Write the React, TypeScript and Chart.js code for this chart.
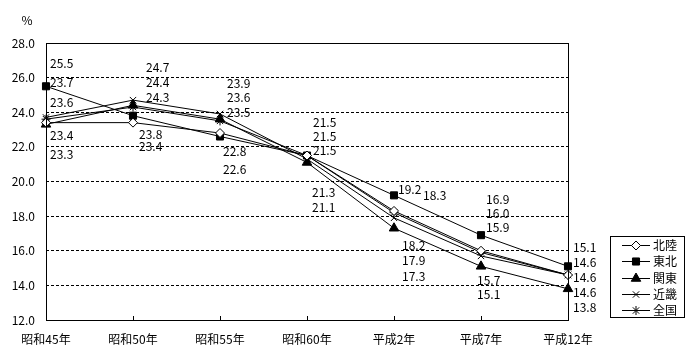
import React, { useEffect, useRef } from 'react';
import { Chart, registerables } from 'chart.js';
import { drawPoint } from 'chart.js/helpers';

Chart.register(...registerables);

const categories = ['昭和45年', '昭和50年', '昭和55年', '昭和60年', '平成2年', '平成7年', '平成12年'];
const seriesNames = ['北陸', '東北', '関東', '近畿', '全国'];
const hokuriku = [23.4, 23.4, 22.8, 21.5, 18.3, 16.0, 14.6];
const tohoku = [25.5, 23.8, 22.6, 21.5, 19.2, 16.9, 15.1];
const kanto = [23.3, 24.4, 23.6, 21.1, 17.3, 15.1, 13.8];
const kinki = [23.7, 24.7, 23.9, 21.3, 17.9, 15.7, 14.6];
const zenkoku = [23.6, 24.3, 23.5, 21.5, 18.2, 15.9, 14.6];
const yMin = 12;
const yMax = 28;
const yStep = 2;
const unitLabel = '%';

const FONT = '"Noto Sans CJK JP", "Noto Sans", sans-serif';

// label layout per category (style only)
const labelLayout: any[] = [
  { mode: 'split', nUp: 3, upEnd: 16, gapUp: 19.5, downStart: 11, gapDown: 19, dxUp: 4, dxDown: 4 },
  { mode: 'split', nUp: 3, upEnd: -3, gapUp: 15, downStart: 12, gapDown: 12, dxUp: 13, dxDown: 6 },
  { mode: 'split', nUp: 3, upEnd: -2, gapUp: 14.5, downStart: 15, gapDown: 18, dxUp: 7, dxDown: 3 },
  { mode: 'split', nUp: 3, upEnd: -5, gapUp: 14, downStart: 30, gapDown: 15, dxUp: 6, dxDown: 5 },
  { mode: 'inline', nUp: 2, upEnd: -6, downStart: 17, gapDown: 15.5, dxUp: 4, dxDown: 8 },
  { mode: 'split', nUp: 3, upEnd: -8, gapUp: 14, downStart: 14, gapDown: 14, dxUp: 5, dxDown: -4 },
  { mode: 'column', upEnd: -19, gapUp: 15, dxUp: 5 },
];

const markerStyles: any[] = [
  { pointStyle: 'rectRot', radius: 4.5, bg: '#ffffff' },
  { pointStyle: 'rect', radius: 5, bg: '#000000' },
  { pointStyle: 'triangle', radius: 5.5, bg: '#000000' },
  { pointStyle: 'crossRot', radius: 4.5, bg: '#000000' },
  { pointStyle: 'star', radius: 4.5, bg: '#000000' },
];

const decorPlugin = {
  id: 'decor',
  afterDatasetsDraw(chart: any) {
    const { ctx, chartArea, scales } = chart;
    const x = scales.x;
    const y = scales.y;
    ctx.save();
    // frame
    ctx.strokeStyle = '#000';
    ctx.lineWidth = 1;
    ctx.setLineDash([]);
    ctx.strokeRect(Math.round(chartArea.left) + 0.5, Math.round(chartArea.top) + 0.5,
      Math.round(chartArea.right - chartArea.left), Math.round(chartArea.bottom - chartArea.top));
    // x tick marks
    ctx.beginPath();
    categories.forEach((_, i) => {
      const px = Math.round(x.getPixelForValue(i)) + 0.5;
      ctx.moveTo(px, chartArea.bottom);
      ctx.lineTo(px, chartArea.bottom - 4);
    });
    ctx.stroke();
    // unit
    ctx.fillStyle = '#000';
    ctx.font = '12px ' + FONT;
    ctx.textAlign = 'center';
    ctx.textBaseline = 'middle';
    ctx.fillText(unitLabel, 27, 20);

    // data labels
    ctx.textAlign = 'left';
    const datasets = chart.data.datasets;
    categories.forEach((_, i) => {
      const vals: number[] = datasets.map((d: any) => d.data[i]);
      const sorted = [...vals].sort((a, b) => b - a);
      const px = x.getPixelForValue(i);
      const maxPix = y.getPixelForValue(sorted[0]);
      const minPix = y.getPixelForValue(sorted[sorted.length - 1]);
      const L = labelLayout[i];
      const fmt = (v: number) => v.toFixed(1);
      if (L.mode === 'column') {
        sorted.forEach((v, k) => {
          ctx.fillText(fmt(v), px + L.dxUp, maxPix + L.upEnd + k * L.gapUp);
        });
        return;
      }
      const up = sorted.slice(0, L.nUp);
      const down = sorted.slice(L.nUp);
      if (L.mode === 'inline') {
        ctx.fillText(fmt(up[0]), px + L.dxUp, maxPix + L.upEnd);
        ctx.fillText(fmt(up[1]), px + L.dxUp + 25, maxPix);
      } else {
        up.forEach((v, k) => {
          ctx.fillText(fmt(v), px + L.dxUp, maxPix + L.upEnd - (up.length - 1 - k) * L.gapUp);
        });
      }
      down.forEach((v, k) => {
        ctx.fillText(fmt(v), px + L.dxDown, minPix + L.downStart + k * L.gapDown);
      });
    });

    // legend
    const bx = 610, by = 236, bw = 74, bh = 81;
    ctx.strokeRect(bx + 0.5, by + 0.5, bw, bh);
    datasets.forEach((d: any, k: number) => {
      const iy = Math.round(by + 9 + k * 16.3) + 0.5;
      ctx.beginPath();
      ctx.moveTo(622, iy);
      ctx.lineTo(650, iy);
      ctx.stroke();
      ctx.fillStyle = d.pointBackgroundColor;
      drawPoint(ctx, { pointStyle: d.pointStyle, radius: d.pointRadius, borderWidth: 1, rotation: 0 } as any, 636, iy);
      ctx.fillStyle = '#000';
      ctx.fillText(d.label, 653, iy);
    });
    ctx.restore();
  },
};

export default function App() {
  const ref = useRef<HTMLCanvasElement | null>(null);
  useEffect(() => {
    if (!ref.current) return;
    const seriesData = [hokuriku, tohoku, kanto, kinki, zenkoku];
    const chart = new Chart(ref.current, {
      type: 'line',
      data: {
        labels: categories,
        datasets: seriesData.map((arr, k) => ({
          label: seriesNames[k],
          data: arr,
          borderColor: '#000',
          borderWidth: 1,
          backgroundColor: markerStyles[k].bg,
          pointStyle: markerStyles[k].pointStyle,
          pointRadius: markerStyles[k].radius,
          pointBackgroundColor: markerStyles[k].bg,
          pointBorderColor: '#000',
          pointBorderWidth: 1,
          tension: 0,
          fill: false,
        })),
      },
      options: {
        animation: false,
        responsive: false,
        maintainAspectRatio: false,
        layout: { padding: { left: 0, right: 132, top: 43, bottom: 0 } },
        plugins: { legend: { display: false }, tooltip: { enabled: false } },
        scales: {
          x: {
            type: 'category',
            offset: false,
            grid: { display: false, drawTicks: false },
            border: { display: false },
            ticks: {
              color: '#000',
              font: { family: FONT, size: 12 },
              padding: 12,
              autoSkip: false,
              maxRotation: 0,
            },
            afterFit: (s: any) => { s.height = 40; },
          },
          y: {
            min: yMin,
            max: yMax,
            grid: {
              drawTicks: false,
              color: (c: any) => (c.tick && (c.tick.value === yMin || c.tick.value === yMax) ? 'rgba(0,0,0,0)' : '#000'),
              lineWidth: 1,
            },
            border: { display: false, dash: [3, 2] },
            ticks: {
              stepSize: yStep,
              color: '#000',
              font: { family: FONT, size: 12 },
              padding: 11,
              callback: (v: any) => Number(v).toFixed(1),
            },
            afterFit: (s: any) => { s.width = 46; },
          },
        },
      },
      plugins: [decorPlugin],
    } as any);
    return () => chart.destroy();
  }, []);
  return (
    <div style={{ position: 'fixed', left: 0, top: 0, width: 700, height: 360, background: '#fff' }}>
      <canvas ref={ref} width={700} height={360} style={{ width: 700, height: 360 }} />
    </div>
  );
}
